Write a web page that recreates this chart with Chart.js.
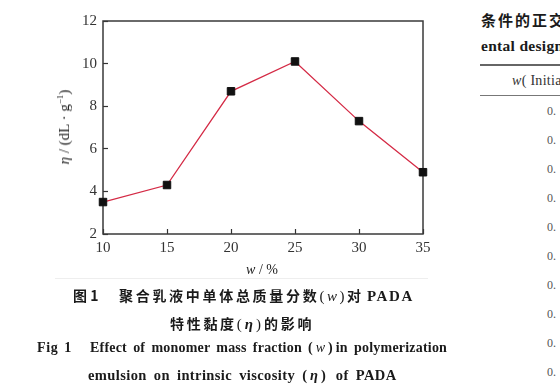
<!DOCTYPE html>
<html>
<head>
<meta charset="utf-8">
<script src="https://cdn.jsdelivr.net/npm/chart.js@4.4.0/dist/chart.umd.min.js"></script>
<style>
  body { margin: 0; width: 560px; height: 387px; background: #fff; position: relative; overflow: hidden;
         font-family: 'Liberation Serif', 'Times New Roman', serif; color: #1a1a1a; }
  .abs { position: absolute; white-space: nowrap; }
  .cjk { font-family: 'Noto Sans CJK SC', sans-serif; font-weight: bold; }
  .cap { font-size: 14px; line-height: 18px; }
  .en { font-weight: bold; font-size: 14px; line-height: 18px; }
</style>
</head>
<body>
<div class="abs" style="left:0;top:0;width:450px;height:290px">
  <canvas id="chart" width="450" height="290"></canvas>
</div>

<!-- axis titles -->
<div class="abs" style="left:62px;top:127px;font-size:15px;line-height:16px;transform:translate(-50%,-50%) rotate(-90deg);color:#222">
  <i>η</i> / (dL · g<sup style="font-size:9px">−1</sup>)
</div>
<div class="abs" style="left:262px;top:270px;font-size:14px;line-height:16px;transform:translate(-50%,-50%);color:#222">
  <i>w</i> / %
</div>
<div class="abs" style="left:55px;top:278px;width:373px;height:1px;background:#eee"></div>

<!-- captions -->
<div class="abs cjk cap" style="left:73px;top:286px">图 1</div>
<div class="abs cap" style="left:119px;top:286px">
  <span class="cjk" style="letter-spacing:2.7px">聚合乳液中单体总质量分数</span><span style="font-size:15px;letter-spacing:2.5px">(<i>w</i>)</span><span class="cjk">对</span><b style="font-size:15px;letter-spacing:1.6px;margin-left:6px">PADA</b>
</div>
<div class="abs cap" style="left:170px;top:314px">
  <span class="cjk" style="letter-spacing:2.7px">特性黏度</span><span style="font-size:15px;letter-spacing:3px">(<b><i>η</i></b>)</span><span class="cjk" style="letter-spacing:2.7px">的影响</span>
</div>
<div class="abs en" style="left:37px;top:339px;letter-spacing:0.6px;word-spacing:2px">Fig 1</div>
<div class="abs en" style="left:90px;top:339px;letter-spacing:0.2px;word-spacing:2.5px">Effect of monomer mass fraction <span style="letter-spacing:3px">(<i style="font-weight:normal">w</i>)</span>in polymerization</div>
<div class="abs en" style="left:88px;top:366px;font-size:14.5px;letter-spacing:0.4px;word-spacing:3px">emulsion on intrinsic viscosity <span style="letter-spacing:3px">(<i>η</i>)</span> of PADA</div>

<!-- cut-off table on the right -->
<div class="abs cjk" style="left:481px;top:11px;font-size:15px;line-height:18px;letter-spacing:2px">条件的正交</div>
<div class="abs" style="left:481px;top:37px;font-size:15.5px;line-height:18px;font-weight:bold;letter-spacing:0.3px">ental design</div>
<div class="abs" style="left:480px;top:64px;width:80px;height:2px;background:#666"></div>
<div class="abs" style="left:512px;top:73px;font-size:14px;line-height:16px;color:#333;letter-spacing:0.3px"><i>w</i>( Initiator</div>
<div class="abs" style="left:480px;top:95px;width:80px;height:1px;background:#777"></div>
<div id="col" class="abs" style="left:547px;top:0;font-size:12px;color:#555"></div>

<script>
const xValues = [10, 15, 20, 25, 30, 35];
const etaValues = [3.5, 4.3, 8.7, 10.1, 7.3, 4.9];
const yTicks = [2, 4, 6, 8, 10, 12];
const tableRowTops = [104, 133, 162, 191, 220, 249, 278, 307, 336, 365];

// right-hand column stubs
const col = document.getElementById('col');
tableRowTops.forEach(t => {
  const d = document.createElement('div');
  d.className = 'abs';
  d.style.top = t + 'px';
  d.textContent = '0.';
  col.appendChild(d);
});

const framePlugin = {
  id: 'frame',
  beforeDatasetsDraw(chart) {
    const a = chart.chartArea;
    const ctx = chart.ctx;
    ctx.save();
    ctx.strokeStyle = '#3a3a3a';
    ctx.lineWidth = 1.5;
    ctx.strokeRect(a.left, a.top, a.right - a.left, a.bottom - a.top);
    ctx.restore();
  }
};

const ctx = document.getElementById('chart');
new Chart(ctx, {
  type: 'line',
  data: {
    datasets: [{
      data: xValues.map((x, i) => ({x: x, y: etaValues[i]})),
      borderColor: '#d42a45',
      borderWidth: 1.3,
      pointStyle: 'rect',
      pointRadius: 5.3,
      pointBackgroundColor: '#111',
      pointBorderColor: '#111',
      pointBorderWidth: 1,
      tension: 0,
      fill: false,
      clip: false
    }]
  },
  options: {
    responsive: false,
    animation: false,
    layout: { padding: { top: 21, right: 27, left: 0, bottom: 0 } },
    plugins: { legend: { display: false }, tooltip: { enabled: false } },
    scales: {
      x: {
        type: 'linear',
        min: 10, max: 35,
        afterFit: s => { s.height = 56; },
        afterBuildTicks: s => { s.ticks = xValues.map(v => ({value: v})); },
        grid: { drawOnChartArea: false, tickLength: -5, tickColor: '#333', tickWidth: 1.2 },
        border: { display: false },
        ticks: { padding: 10, color: '#333', font: { family: 'Liberation Serif', size: 15 } }
      },
      y: {
        min: 2, max: 12,
        afterFit: s => { s.width = 103; },
        afterBuildTicks: s => { s.ticks = yTicks.map(v => ({value: v})); },
        grid: { drawOnChartArea: false, tickLength: -5, tickColor: '#333', tickWidth: 1.2 },
        border: { display: false },
        ticks: { padding: 11, color: '#333', font: { family: 'Liberation Serif', size: 15 } }
      }
    }
  },
  plugins: [framePlugin]
});
</script>
</body>
</html>
